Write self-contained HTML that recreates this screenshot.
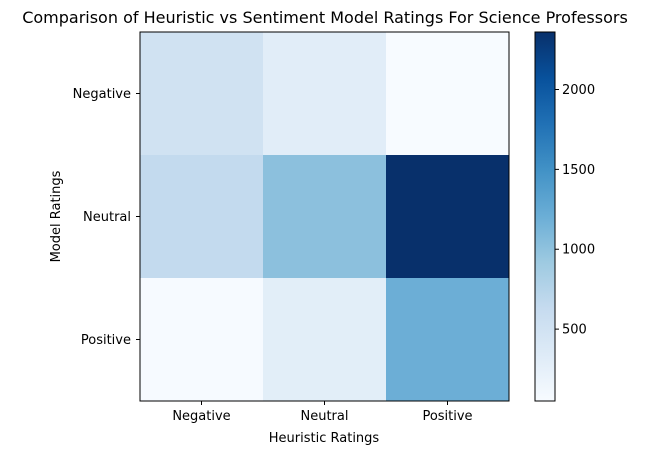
<!DOCTYPE html>
<html><head><meta charset="utf-8"><style>
body{margin:0;background:#fff;}
text{font-family:"DejaVu Sans","Liberation Sans",sans-serif;fill:#000;}
</style></head><body>
<svg id="chart" width="649" height="455" xmlns="http://www.w3.org/2000/svg">
<defs><linearGradient id="cg" x1="0" y1="1" x2="0" y2="0">
<stop offset="0" stop-color="#f7fbff"/><stop offset="0.125" stop-color="#deebf7"/><stop offset="0.25" stop-color="#c6dbef"/><stop offset="0.375" stop-color="#9ecae1"/><stop offset="0.5" stop-color="#6baed6"/><stop offset="0.625" stop-color="#4292c6"/><stop offset="0.75" stop-color="#2171b5"/><stop offset="0.875" stop-color="#08519c"/><stop offset="1" stop-color="#08306b"/>
</linearGradient></defs>
<text x="325" y="23" text-anchor="middle" font-size="16">Comparison of Heuristic vs Sentiment Model Ratings For Science Professors</text>
<g id="cells"></g>
<rect x="140" y="32" width="369" height="369" fill="none" stroke="#000" stroke-width="1"/>
<g id="axes"></g>
<text x="324" y="442" text-anchor="middle" font-size="13">Heuristic Ratings</text>
<text transform="translate(60,216.5) rotate(-90)" text-anchor="middle" font-size="13">Model Ratings</text>
<rect x="535" y="32" width="20" height="369" fill="url(#cg)" stroke="#000" stroke-width="1"/>
<g id="cbar"></g>
</svg>
<script>
const xCats=["Negative","Neutral","Positive"];
const yCats=["Negative","Neutral","Positive"];
const row0=[510,300,50];
const row1=[650,1020,2360];
const row2=[60,290,1200];
const cbTicks=[500,1000,1500,2000];
const vals=[row0,row1,row2];
const vmin=50,vmax=2360;
const stops=["#f7fbff","#deebf7","#c6dbef","#9ecae1","#6baed6","#4292c6","#2171b5","#08519c","#08306b"];
function hex(h){return [1,3,5].map(i=>parseInt(h.substr(i,2),16));}
function color(v){let t=Math.max(0,Math.min(1,(v-vmin)/(vmax-vmin)))*8;let i=Math.min(7,Math.floor(t)),f=t-i;
const a=hex(stops[i]),b=hex(stops[i+1]);return "rgb("+a.map((c,k)=>Math.round(c+(b[k]-c)*f)).join(",")+")";}
const X0=140,Y0=32,W=369,H=369,cw=W/3,ch=H/3;
const xs=i=>X0+i*cw, ys=j=>Y0+j*ch;
const cbY=v=>401-(v-vmin)/(vmax-vmin)*369;
const NS="http://www.w3.org/2000/svg";
function el(t,a,p){const e=document.createElementNS(NS,t);for(const k in a)e.setAttribute(k,a[k]);document.getElementById(p).appendChild(e);return e;}
vals.forEach((r,j)=>r.forEach((v,i)=>{
 const e=el("rect",{x:xs(i),y:ys(j),width:cw+0.5,height:ch+0.5,fill:color(v)},"cells");
 
 
}));
xCats.forEach((c,i)=>{const cx=xs(i)+cw/2;
 el("line",{x1:cx,x2:cx,y1:401,y2:405,stroke:"#000"},"axes");
 const t=el("text",{x:cx,y:420,"text-anchor":"middle","font-size":13},"axes");t.textContent=c;
 
 
});
yCats.forEach((c,j)=>{const cy=ys(j)+ch/2;
 el("line",{x1:136,x2:140,y1:cy,y2:cy,stroke:"#000"},"axes");
 const t=el("text",{x:131,y:cy+4.5,"text-anchor":"end","font-size":13},"axes");t.textContent=c;
 
 
});
cbTicks.forEach(v=>{const y=cbY(v);
 el("line",{x1:555,x2:559,y1:y,y2:y,stroke:"#000"},"cbar");
 const t=el("text",{x:562,y:y+4.5,"font-size":13},"cbar");t.textContent=v;
 
 
});
</script>
</body></html>
